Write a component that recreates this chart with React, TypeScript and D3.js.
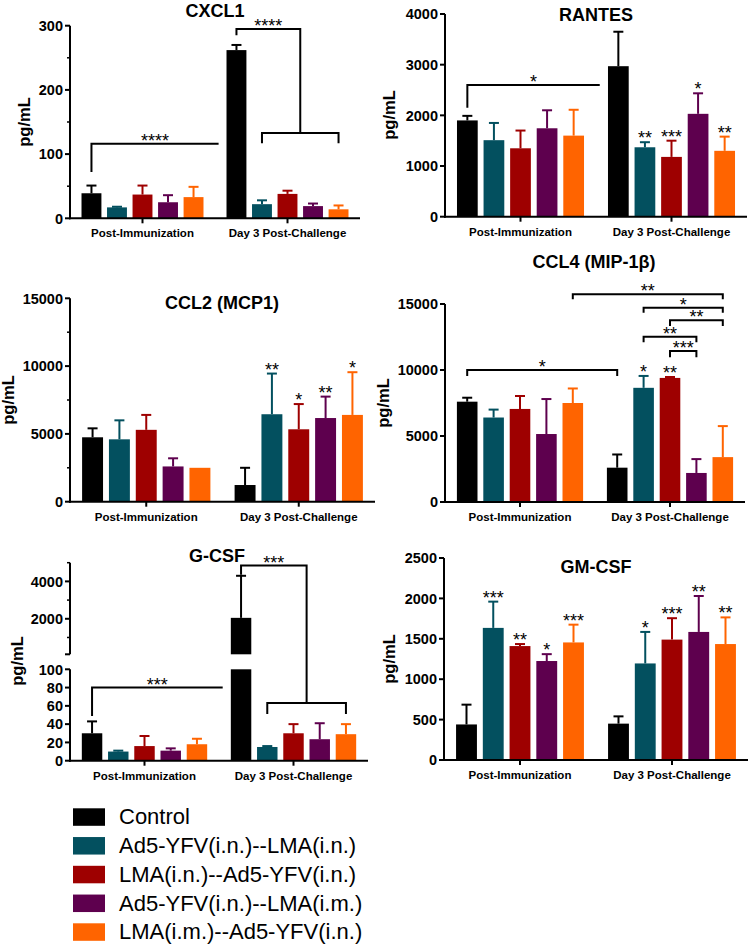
import React from "react"
import * as d3 from "d3"

const groups = ["Post-Immunization", "Day 3 Post-Challenge"]
const seriesNames = [
  "Control",
  "Ad5-YFV(i.n.)--LMA(i.n.)",
  "LMA(i.n.)--Ad5-YFV(i.n.)",
  "Ad5-YFV(i.n.)--LMA(i.m.)",
  "LMA(i.m.)--Ad5-YFV(i.n.)",
]
const seriesColors = ["#000000", "#03505f", "#9e0000", "#5e004e", "#ff6400"]

// mean and SD per group (rows) and series (columns)
const cxcl1Mean = [[39, 17, 37, 25, 33], [262, 22, 38, 19, 14]]
const cxcl1Sd = [[12, 1, 14, 11, 16], [8, 6, 5, 4, 6]]
const cxcl1Ticks = [0, 100, 200, 300]
const cxcl1Minor = [50, 150, 250]

const rantesMean = [[1900, 1510, 1350, 1745, 1600], [2970, 1370, 1180, 2030, 1300]]
const rantesSd = [[90, 340, 350, 355, 510], [680, 100, 320, 405, 280]]
const rantesStars = [["", "", "", "", ""], ["", "**", "***", "*", "**"]]
const rantesTicks = [0, 1000, 2000, 3000, 4000]

const ccl2Mean = [[4750, 4600, 5300, 2600, 2500], [1230, 6450, 5340, 6170, 6400]]
const ccl2Sd = [[660, 1400, 1100, 600, 0], [1270, 3000, 1860, 1580, 3150]]
const ccl2Stars = [["", "", "", "", ""], ["", "**", "*", "**", "*"]]
const ccl2Ticks = [0, 5000, 10000, 15000]
const ccl2Minor = [2500, 7500, 12500]

const ccl4Mean = [[7600, 6400, 7050, 5150, 7500], [2600, 8650, 9400, 2200, 3400]]
const ccl4Sd = [[300, 600, 980, 2650, 1100], [1000, 900, 70, 1050, 2350]]
const ccl4Stars = [["", "", "", "", ""], ["", "*", "**", "", ""]]
const ccl4Ticks = [0, 5000, 10000, 15000]

const gcsfMean = [[30, 10, 16, 11, 18], [2050, 15, 30, 23.5, 29]]
const gcsfSd = [[13, 1, 11, 2.5, 6], [2250, 1, 10, 17.5, 11]]
const gcsfLowTicks = [0, 20, 40, 60, 80, 100]
const gcsfHighTicks = [2000, 4000]
const gcsfHighMinor = [1000, 3000, 5000]

const gmcsfMean = [[440, 1635, 1410, 1225, 1455], [450, 1195, 1490, 1585, 1435]]
const gmcsfSd = [[245, 325, 25, 85, 220], [90, 390, 265, 445, 330]]
const gmcsfStars = [["", "***", "**", "*", "***"], ["", "*", "***", "**", "**"]]
const gmcsfTicks = [0, 500, 1000, 1500, 2000, 2500]

// brackets: [group, series] ends, line level and drop levels in pg/mL (null = open end)
const rantesBrackets = [
  { a: [0, 0], b: [1, 0], y: 2600, dropA: 2150, dropB: null, label: "*" },
]
const ccl4Brackets = [
  { a: [0, 0], b: [1, 0], y: 10000, dropA: 9550, dropB: 9550, label: "*" },
  { a: [0, 4], b: [1, 4], y: 15735, dropA: 15356, dropB: 15356, label: "**" },
  { a: [1, 1], b: [1, 4], y: 14720, dropA: 14341, dropB: 14341, label: "*" },
  { a: [1, 2], b: [1, 4], y: 13765, dropA: 13333, dropB: 13333, label: "**" },
  { a: [1, 1], b: [1, 3], y: 12523, dropA: 12098, dropB: 12098, label: "**" },
  { a: [1, 2], b: [1, 3], y: 11439, dropA: 10962, dropB: 10962, label: "***" },
]
const cxcl1Brackets = [
  { a: [0, 0], b: [1, 0], y: 116, dropA: 72, dropB: null, label: "****" },
]
const cxcl1Nested = [
  { a: [1, 0], y: 295, dropA: 285, subA: [1, 1], subB: [1, 4], subY: 133, subDrop: 117, label: "****" },
]
const gcsfBrackets = [
  { a: [0, 0], b: [1, 0], y: 80, dropA: 49, dropB: null, label: "***" },
]
const gcsfNested = [
  { a: [1, 0], y: 4850, dropA: 4350, subA: [1, 1], subB: [1, 4], subY: 63, subDrop: 51, label: "***" },
]

const font = "'Liberation Sans', Arial, Helvetica, sans-serif"
const noStars = [["", "", "", "", ""], ["", "", "", "", ""]]

const Panel = ({ p }) => {
  const xg = d3.scaleBand().domain(groups).range([p.left, p.right])
  const bw = xg.bandwidth()
  const xs = d3
    .scaleBand()
    .domain(d3.range(seriesNames.length))
    .range([-bw * 0.44, bw * 0.44])
    .paddingInner(0.22)
    .paddingOuter(0.11)
  const barLeft = (g, i) => xg(groups[g]) + bw / 2 + xs(i)
  const cx = (g, i) => barLeft(g, i) + xs.bandwidth() / 2
  const y = p.y
  const step = xs.step()
  const stars = p.stars || noStars
  const y0 = y(0)

  return (
    <g>
      <text x={p.titleX} y={p.titleY} textAnchor="middle" fontSize={18} fontWeight="bold">
        {p.title}
      </text>
      <text
        transform={`translate(${p.ylabelX},${p.ylabelY}) rotate(-90)`}
        textAnchor="middle"
        fontSize={16.5}
        fontWeight="bold"
      >
        pg/mL
      </text>

      {p.mean.map((row, g) =>
        row.map((v, i) => {
          const top = v + p.sd[g][i]
          const color = seriesColors[i]
          const xl = barLeft(g, i)
          const w = xs.bandwidth()
          const c = cx(g, i)
          const rects =
            p.split && v > p.split
              ? [
                  [y(p.split), y0],
                  [y(v), p.y(p.split + 1e-9)],
                ]
              : [[y(v), y0]]
          return (
            <g key={`${g}-${i}`}>
              {rects.map(([a, b], k) => (
                <rect key={k} x={xl} y={a} width={w} height={b - a} fill={color} />
              ))}
              {p.sd[g][i] > 0 && (
                <g stroke={color} strokeWidth={2}>
                  <line x1={c} x2={c} y1={y(v)} y2={y(top)} />
                  <line x1={c - 5} x2={c + 5} y1={y(top)} y2={y(top)} />
                </g>
              )}
              {stars[g][i] && (
                <text x={c} y={y(top) + 2} textAnchor="middle" fontSize={18}>
                  {stars[g][i]}
                </text>
              )}
            </g>
          )
        })
      )}

      {/* y axis */}
      {p.axis(y)}

      {/* x axis */}
      <line x1={p.left - 1} x2={p.right} y1={y0} y2={y0} stroke="#000" strokeWidth={2} />
      {groups.map(gr => (
        <g key={gr}>
          <line
            x1={xg(gr) + bw / 2}
            x2={xg(gr) + bw / 2}
            y1={y0}
            y2={y0 + 5}
            stroke="#000"
            strokeWidth={2}
          />
          <text x={xg(gr) + bw / 2} y={y0 + 19} textAnchor="middle" fontSize={11.5} fontWeight="bold">
            {gr}
          </text>
        </g>
      ))}

      {/* significance brackets */}
      {(p.brackets || []).map((b, k) => {
        const xa = cx(b.a[0], b.a[1])
        const xb = b.dropB == null ? cx(b.b[0], b.b[1]) - step * 0.7 : cx(b.b[0], b.b[1])
        const ly = y(b.y)
        return (
          <g key={`b${k}`}>
            <path
              d={`M${xa},${y(b.dropA)}V${ly}H${xb}${b.dropB == null ? "" : `V${y(b.dropB)}`}`}
              fill="none"
              stroke="#000"
              strokeWidth={2}
            />
            <text x={(xa + xb) / 2} y={ly + 3} textAnchor="middle" fontSize={18}>
              {b.label}
            </text>
          </g>
        )
      })}
      {(p.nested || []).map((b, k) => {
        const xa = cx(b.a[0], b.a[1])
        const s1 = cx(b.subA[0], b.subA[1])
        const s2 = cx(b.subB[0], b.subB[1])
        const mid = (s1 + s2) / 2
        const ly = y(b.y)
        const sy = y(b.subY)
        return (
          <g key={`n${k}`}>
            <path
              d={`M${xa},${y(b.dropA)}V${ly}H${mid}V${sy}M${s1},${y(b.subDrop)}V${sy}H${s2}V${y(b.subDrop)}`}
              fill="none"
              stroke="#000"
              strokeWidth={2}
            />
            <text x={(xa + mid) / 2} y={ly + 3} textAnchor="middle" fontSize={18}>
              {b.label}
            </text>
          </g>
        )
      })}
    </g>
  )
}

const simpleAxis = (ticks, minor, left) => y => (
  <g>
    <line x1={left} x2={left} y1={y(0) + 1} y2={y(ticks[ticks.length - 1])} stroke="#000" strokeWidth={2} />
    {ticks.map(t => (
      <g key={t}>
        <line x1={left - 5} x2={left} y1={y(t)} y2={y(t)} stroke="#000" strokeWidth={2} />
        <text x={left - 7} y={y(t)} dy="0.36em" textAnchor="end" fontSize={14.5} fontWeight="bold">
          {t}
        </text>
      </g>
    ))}
    {minor.map(t => (
      <line key={t} x1={left - 3} x2={left} y1={y(t)} y2={y(t)} stroke="#000" strokeWidth={1.5} />
    ))}
  </g>
)

const linY = (max, y0, y1) => d3.scaleLinear().domain([0, max]).range([y0, y1])

const gLow = d3.scaleLinear().domain([0, 100]).range([760.7, 669.3])
const gHigh = d3.scaleLinear().domain([100, 5000]).range([654.3, 562.7])
const gcsfY = v => (v <= 100 ? gLow(v) : gHigh(v))

const gcsfAxis = y => (
  <g>
    <line x1={70} x2={70} y1={gLow(0) + 1} y2={gLow(100)} stroke="#000" strokeWidth={2} />
    <line x1={70} x2={70} y1={gHigh(100)} y2={gHigh(5000)} stroke="#000" strokeWidth={2} />
    {gcsfLowTicks.map(t => (
      <g key={t}>
        <line x1={65} x2={70} y1={gLow(t)} y2={gLow(t)} stroke="#000" strokeWidth={2} />
        <text x={63} y={gLow(t)} dy="0.36em" textAnchor="end" fontSize={14.5} fontWeight="bold">
          {t}
        </text>
      </g>
    ))}
    <line x1={65} x2={70} y1={gHigh(100)} y2={gHigh(100)} stroke="#000" strokeWidth={2} />
    {gcsfHighTicks.map(t => (
      <g key={t}>
        <line x1={65} x2={70} y1={gHigh(t)} y2={gHigh(t)} stroke="#000" strokeWidth={2} />
        <text x={63} y={gHigh(t)} dy="0.36em" textAnchor="end" fontSize={14.5} fontWeight="bold">
          {t}
        </text>
      </g>
    ))}
    {gcsfHighMinor.map(t => (
      <line key={t} x1={67} x2={70} y1={gHigh(t)} y2={gHigh(t)} stroke="#000" strokeWidth={1.5} />
    ))}
  </g>
)

const panels = [
  {
    title: "CXCL1", mean: cxcl1Mean, sd: cxcl1Sd, left: 70, right: 360,
    y: linY(300, 218.3, 25.7), axis: simpleAxis(cxcl1Ticks, cxcl1Minor, 70),
    titleX: 215, titleY: 17, ylabelX: 30, ylabelY: 122,
    brackets: cxcl1Brackets, nested: cxcl1Nested,
  },
  {
    title: "RANTES", mean: rantesMean, sd: rantesSd, stars: rantesStars, left: 445, right: 747,
    y: linY(4000, 216.7, 14), axis: simpleAxis(rantesTicks, [], 445),
    titleX: 596, titleY: 20.5, ylabelX: 395, ylabelY: 115, brackets: rantesBrackets,
  },
  {
    title: "CCL2 (MCP1)", mean: ccl2Mean, sd: ccl2Sd, stars: ccl2Stars, left: 70, right: 375,
    y: linY(15000, 501.7, 298.3), axis: simpleAxis(ccl2Ticks, ccl2Minor, 70),
    titleX: 222, titleY: 309, ylabelX: 14, ylabelY: 400,
  },
  {
    title: "CCL4 (MIP-1\u03b2)", mean: ccl4Mean, sd: ccl4Sd, stars: ccl4Stars, left: 445, right: 745,
    y: linY(15000, 502, 304), axis: simpleAxis(ccl4Ticks, [], 445),
    titleX: 594, titleY: 268, ylabelX: 389, ylabelY: 403, brackets: ccl4Brackets,
  },
  {
    title: "G-CSF", mean: gcsfMean, sd: gcsfSd, left: 70, right: 368, split: 100,
    y: gcsfY, axis: gcsfAxis,
    titleX: 217, titleY: 562, ylabelX: 23, ylabelY: 661,
    brackets: gcsfBrackets, nested: gcsfNested,
  },
  {
    title: "GM-CSF", mean: gmcsfMean, sd: gmcsfSd, stars: gmcsfStars, left: 444, right: 748,
    y: linY(2500, 760, 558), axis: simpleAxis(gmcsfTicks, [], 444),
    titleX: 596, titleY: 573, ylabelX: 395, ylabelY: 659,
  },
]

export default function App() {
  return (
    <svg
      width={750}
      height={947}
      style={{ position: "absolute", left: 0, top: 0, background: "#fff" }}
      fontFamily={font}
    >
      <rect width={750} height={947} fill="#fff" />
      {panels.map(p => (
        <Panel key={p.title} p={p} />
      ))}
      {seriesNames.map((s, i) => (
        <g key={s} transform={`translate(73,${808.3 + i * 28.75})`}>
          <rect width={32} height={17.5} fill={seriesColors[i]} />
          <text x={46} y={16} fontSize={22}>
            {s}
          </text>
        </g>
      ))}
    </svg>
  )
}
